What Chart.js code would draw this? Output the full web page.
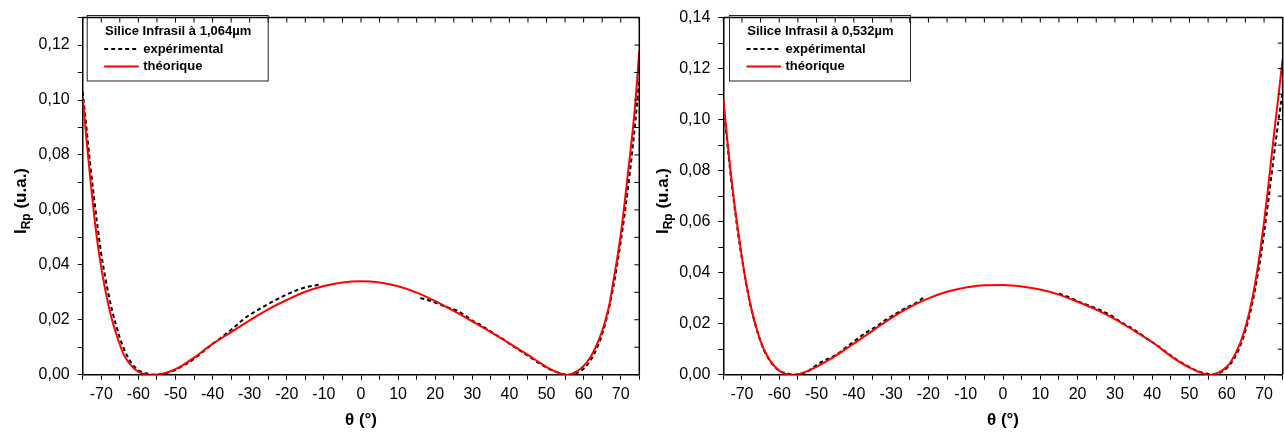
<!DOCTYPE html>
<html>
<head>
<meta charset="utf-8">
<script src="https://cdn.jsdelivr.net/npm/chart.js@4.4.1/dist/chart.umd.min.js"></script>
<style>
  html, body { margin: 0; padding: 0; background: #fff; }
  #wrap { position: relative; width: 1284px; height: 432px; overflow: hidden; }
  canvas { position: absolute; top: 0; }
</style>
</head>
<body>
<div id="wrap">
  <canvas id="chart1" width="660" height="432" style="left:0px"></canvas>
  <canvas id="chart2" width="660" height="432" style="left:642px"></canvas>
</div>
<script>
// angle grid shared by both theoretical curves
var thetaTheo = [-75,-74,-73,-72,-71,-70,-69,-68,-67,-66,-65,-64,-63,-62,-61,-60,-59,-58,-57,-56,-55,-54,-53,-52,
    -50,-48,-45,-42,-40,
    -35,-30,-25,-20,-15,-10,-5,0,5,10,15,20,25,30,35,40,45,
    48,50,
    52,53,54,55,56,57,58,59,60,61,62,63,64,65,66,67,68,69,70,71,72,73,74,75];

// Silice Infrasil à 1,064µm
var theo1 = [0.101,0.086,0.072,0.059,0.048,0.039,0.0315,0.025,0.0195,0.015,0.011,0.0075,0.0052,0.0035,0.0021,0.0011,0.0005,0.0002,0.0,0.0,0.0,0.0002,0.0005,0.0009,
    0.002,0.0035,0.0062,0.0092,0.0112,
    0.0155,0.0198,0.0238,0.0272,0.0302,0.0323,0.0336,0.034,0.0336,0.0322,0.0299,0.0268,0.0232,0.0194,0.0155,0.0114,0.0072,
    0.0045,0.0028,
    0.0014,0.0008,0.0003,0.0,0.0,0.0004,0.0011,0.002,0.0032,0.0048,0.0068,0.0094,0.0124,0.016,0.0205,0.026,0.034,0.042,0.051,0.062,0.074,0.086,0.100,0.118];

var thetaExp1 = [-75,-74,-73,-72,-71,-70,-69,-68,-67,-66,-65,-64,-63,-62,-61,-60,-59,-58,-57,-56,-55,-54,-52,-50,
    -48,-46,-44,-42,-40,-38,-36,-34,-32,-30,-28,-26,-24,-22,-20,-18,-16,-14,-12,-11,
    0,
    16,18,20,22,24,26,28,30,32,34,36,38,40,42,44,46,48,50,52,54,56,57,58,59,60,61,62,63,64,65,66,67,68,69,70,71,72,73,74,75];
var exp1 = [0.103,0.090,0.077,0.065,0.054,0.044,0.036,0.029,0.023,0.018,0.0135,0.0098,0.0068,0.0045,0.0028,0.0016,0.0009,0.0005,0.0002,0.0,0.0001,0.0002,0.0008,0.0018,
    0.0032,0.0048,0.0068,0.009,0.0112,0.0132,0.0153,0.0175,0.0198,0.0218,0.0234,0.025,0.0265,0.0279,0.0292,0.0304,0.0314,0.0321,0.0326,0.0328,
    null,
    0.0279,0.0272,0.0263,0.0252,0.0242,0.0233,0.0216,0.0197,0.0183,0.0166,0.0148,0.0132,0.0113,0.0095,0.0078,0.006,0.0042,0.0026,0.0013,0.0004,0.0,0.0001,0.0005,0.0012,0.0022,0.0036,0.0055,0.008,0.011,0.0148,0.0195,0.0252,0.032,0.0398,0.0485,0.058,0.0685,0.080,0.093,0.108];

// Silice Infrasil à 0,532µm
var theo2 = [0.108,0.093,0.079,0.067,0.056,0.046,0.037,0.0295,0.023,0.0177,0.0132,0.0096,0.0068,0.0046,0.0029,0.0016,0.0007,0.0002,0.0,0.0,0.0002,0.0006,0.0011,0.0017,
    0.0031,0.0047,0.0073,0.0102,0.0122,
    0.0172,0.0222,0.0265,0.0299,0.0325,0.0342,0.0351,0.0352,0.0346,0.0334,0.0314,0.0286,0.0255,0.0218,0.0174,0.0128,0.0073,
    0.0044,0.0028,
    0.0014,0.0008,0.0003,0.0,0.0,0.0004,0.001,0.0019,0.0031,0.0049,0.0073,0.0103,0.014,0.0186,0.0242,0.031,0.0392,0.0488,0.0598,0.0722,0.0855,0.0985,0.111,0.124];

var thetaExp2 = [-75,-74,-73,-72,-71,-70,-69,-68,-67,-66,-65,-64,-63,-62,-61,-60,-59,-58,-57,-56,-55,-54,-52,-50,
    -48,-46,-44,-42,-40,-38,-36,-34,-32,-30,-28,-26,-24,-22,-21,
    0,
    15,17,19,21,23,25,27,29,31,33,35,37,39,41,43,45,47,49,51,53,55,56,57,58,59,60,61,62,63,64,65,66,67,68,69,70,71,72,73,74,75];
var exp2 = [0.107,0.092,0.078,0.066,0.055,0.0455,0.0368,0.0292,0.0228,0.0175,0.013,0.0094,0.0066,0.0044,0.0028,0.0016,0.0009,0.0006,0.0002,0.0,0.0001,0.0004,0.0016,0.0038,
    0.0055,0.0068,0.0085,0.0108,0.013,0.0152,0.0172,0.0188,0.021,0.0228,0.0245,0.0262,0.0276,0.0295,0.0308,
    null,
    0.0318,0.0308,0.0295,0.0282,0.0272,0.026,0.0247,0.0232,0.0212,0.0195,0.0178,0.0158,0.0137,0.0118,0.0097,0.0075,0.0055,0.0038,0.0022,0.001,0.0003,0.0,0.0002,0.0006,0.0014,0.0026,0.0042,0.0064,0.0092,0.0128,0.0172,0.0226,0.029,0.0366,0.0455,0.0555,0.0665,0.0782,0.090,0.101,0.111];

var legendLabels = ["expérimental", "théorique"];
var xTitle = "θ (°)";

Chart.defaults.font.family = '"Liberation Sans", Arial, sans-serif';
Chart.defaults.color = "#000";

var toPoints = (xs, ys) => xs.map((x, i) => ({ x: x, y: ys[i] }));

var decorations = options => ({
    id: "decorations",
    afterDraw: chart => {
        var ctx = chart.ctx;
        var area = chart.chartArea;
        var xs = chart.scales.x, ys = chart.scales.y;
        ctx.save();

        // top and right frame, ticks pointing inward
        ctx.strokeStyle = "#000";
        ctx.lineWidth = 1.5;
        ctx.beginPath();
        ctx.moveTo(area.left, area.top);
        ctx.lineTo(area.right, area.top);
        ctx.lineTo(area.right, area.bottom);
        ctx.stroke();
        ctx.lineWidth = 1;
        ctx.beginPath();
        for (var v = -75; v <= 75; v += 5) {
            var px = xs.getPixelForValue(v);
            ctx.moveTo(px, area.top);
            ctx.lineTo(px, area.top + 5);
        }
        for (var i = 0; i <= Math.round(ys.max * 100); i++) {
            var py = ys.getPixelForValue(i / 100);
            ctx.moveTo(area.right, py);
            ctx.lineTo(area.right - 5, py);
        }
        ctx.stroke();

        // axis titles
        ctx.fillStyle = "#000";
        ctx.font = 'bold 17px "Liberation Sans"';
        ctx.textAlign = "center";
        ctx.textBaseline = "middle";
        ctx.fillText(xTitle, xs.getPixelForValue(0), 420);

        ctx.save();
        ctx.translate(area.left + options.yTitleOffset, 201);
        ctx.rotate(-Math.PI / 2);
        ctx.textAlign = "left";
        ctx.textBaseline = "alphabetic";
        ctx.font = 'bold 17px "Liberation Sans"';
        var w1 = ctx.measureText("I").width;
        var w3 = ctx.measureText(" (u.a.)").width;
        ctx.font = 'bold 12px "Liberation Sans"';
        var w2 = ctx.measureText("Rp").width;
        var start = -(w1 + w2 + w3) / 2;
        ctx.font = 'bold 17px "Liberation Sans"';
        ctx.fillText("I", start, 0);
        ctx.fillText(" (u.a.)", start + w1 + w2, 0);
        ctx.font = 'bold 12px "Liberation Sans"';
        ctx.fillText("Rp", start + w1, 4);
        ctx.restore();

        // legend box
        var bx = area.left + options.legendX;
        var by = 15;
        ctx.lineWidth = 1;
        ctx.strokeStyle = "#222";
        ctx.strokeRect(bx + 0.5, by + 0.5, 181, 65.5);
        ctx.textAlign = "left";
        ctx.textBaseline = "middle";
        ctx.font = 'bold 13px "Liberation Sans"';
        ctx.fillText(options.title, bx + 18.3, 31);
        ctx.fillText(legendLabels[0], bx + 56.5, 49);
        ctx.fillText(legendLabels[1], bx + 56.5, 66.5);
        ctx.lineWidth = 2;
        ctx.strokeStyle = "#000";
        ctx.setLineDash([4, 3]);
        ctx.beginPath();
        ctx.moveTo(bx + 17.5, 49);
        ctx.lineTo(bx + 52, 49);
        ctx.stroke();
        ctx.setLineDash([]);
        ctx.strokeStyle = "#ff0000";
        ctx.beginPath();
        ctx.moveTo(bx + 17.5, 66.5);
        ctx.lineTo(bx + 52, 66.5);
        ctx.stroke();

        ctx.restore();
    }
});

var makeChart = options => {
    var ctx = document.getElementById(options.elementId).getContext("2d");
    return new Chart(ctx, {
        type: "line",
        data: {
            datasets: [
                {
                    label: legendLabels[0],
                    data: toPoints(options.thetaExp, options.exp),
                    borderColor: "#000",
                    borderWidth: 2,
                    borderDash: [4, 3],
                    pointRadius: 0,
                    spanGaps: false,
                    cubicInterpolationMode: "monotone",
                    order: 1
                },
                {
                    label: legendLabels[1],
                    data: toPoints(thetaTheo, options.theo),
                    borderColor: "#ff0000",
                    borderWidth: 2,
                    pointRadius: 0,
                    cubicInterpolationMode: "monotone",
                    order: 0
                }
            ]
        },
        options: {
            responsive: false,
            animation: false,
            layout: { padding: { top: options.top, right: options.padRight, left: 0, bottom: 0 } },
            plugins: { legend: { display: false }, tooltip: { enabled: false } },
            scales: {
                x: {
                    type: "linear",
                    min: -75,
                    max: 75,
                    afterFit: s => { s.height = 57.3; },
                    ticks: {
                        stepSize: 5,
                        maxTicksLimit: 100,
                        autoSkip: false,
                        maxRotation: 0,
                        padding: 5,
                        font: { size: 16 },
                        callback: v => (Math.round(v) % 10 === 0 ? String(Math.round(v)) : "")
                    },
                    grid: { drawOnChartArea: false, drawTicks: true, tickLength: 5, color: "#000", lineWidth: 1 },
                    border: { color: "#000", width: 1.5 }
                },
                y: {
                    type: "linear",
                    min: 0,
                    max: options.yMax,
                    afterFit: s => { s.width = options.yWidth; },
                    ticks: {
                        stepSize: 0.01,
                        maxTicksLimit: 100,
                        autoSkip: false,
                        padding: 8,
                        font: { size: 16 },
                        callback: v => (Math.round(v * 100) % 2 === 0 ? v.toFixed(2).replace(".", ",") : "")
                    },
                    grid: { drawOnChartArea: false, drawTicks: true, tickLength: 5, color: "#000", lineWidth: 1 },
                    border: { color: "#000", width: 1.5 }
                }
            }
        },
        plugins: [decorations(options)]
    });
};

makeChart({
    elementId: "chart1",
    title: "Silice Infrasil à 1,064µm",
    thetaExp: thetaExp1,
    exp: exp1,
    theo: theo1,
    yMax: 0.13,
    yWidth: 82.7,
    top: 13,
    padRight: 20.7,
    legendX: 4,
    yTitleOffset: -56.7
});

makeChart({
    elementId: "chart2",
    title: "Silice Infrasil à 0,532µm",
    thetaExp: thetaExp2,
    exp: exp2,
    theo: theo2,
    yMax: 0.14,
    yWidth: 81.3,
    top: 13.5,
    padRight: 19.3,
    legendX: 5.7,
    yTitleOffset: -55
});
</script>
</body>
</html>
